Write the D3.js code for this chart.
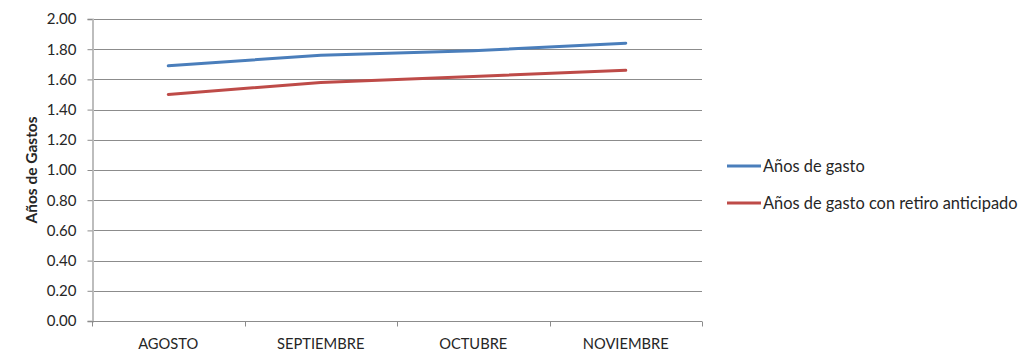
<!DOCTYPE html>
<html>
<head>
<meta charset="utf-8">
<script src="https://cdn.jsdelivr.net/npm/d3@7"></script>
<style>
  body { margin: 0; background: #fff; }
  text { font-family: Lato, "Open Sans", sans-serif; fill: #262626; }
</style>
</head>
<body>
<svg id="chart" width="1024" height="363"></svg>
<script>
// chart data
var months = ['AGOSTO', 'SEPTIEMBRE', 'OCTUBRE', 'NOVIEMBRE'];
var gasto = [1.69, 1.76, 1.79, 1.84];
var gastoRetiro = [1.50, 1.58, 1.62, 1.66];
var seriesNames = ['Años de gasto', 'Años de gasto con retiro anticipado'];
var yTicks = [0, 0.2, 0.4, 0.6, 0.8, 1.0, 1.2, 1.4, 1.6, 1.8, 2.0];

var colors = ['#4a7ebb', '#be4b48'];
var svg = d3.select('#chart');

var padding = {t: 19, l: 92, r: 322, b: 42};
var width = 1024 - padding.l - padding.r;
var height = 363 - padding.t - padding.b;

var xScale = d3.scaleBand().domain(months).range([0, width]);
var yScale = d3.scaleLinear().domain([0, 2]).range([height, 0]);

var chartG = svg.append('g')
    .attr('transform', 'translate(' + [padding.l, padding.t] + ')');

// horizontal grid lines
chartG.selectAll('.grid')
    .data(yTicks)
    .enter().append('line')
    .attr('x1', 0).attr('x2', width)
    .attr('y1', function(d) { return Math.round(yScale(d)) + 0.5; })
    .attr('y2', function(d) { return Math.round(yScale(d)) + 0.5; })
    .attr('stroke', '#8c8c8c')
    .attr('stroke-width', 1);

// y axis
var yAxis = chartG.append('g')
    .attr('transform', 'translate(0.5,0)')
    .call(d3.axisLeft(yScale).tickValues(yTicks).tickSize(5).tickPadding(11)
        .tickFormat(d3.format('.2f')));
yAxis.select('.domain').attr('stroke', '#bdbdbd').attr('stroke-width', 2);
yAxis.selectAll('.tick line').attr('stroke', '#8c8c8c');
yAxis.selectAll('text').style('font-size', '15px').attr('fill', '#262626');

// x axis, ticks at band boundaries
var xAxisG = chartG.append('g')
    .attr('transform', 'translate(0,' + (Math.round(height) + 0.5) + ')');
xAxisG.append('line')
    .attr('x1', 0).attr('x2', width)
    .attr('stroke', '#8c8c8c');
var bounds = months.map(function(m) { return xScale(m); }).concat([width]);
xAxisG.selectAll('.xtick')
    .data(bounds)
    .enter().append('line')
    .attr('x1', function(d) { return Math.round(d) + 0.5; })
    .attr('x2', function(d) { return Math.round(d) + 0.5; })
    .attr('y1', 0).attr('y2', 5)
    .attr('stroke', '#8c8c8c');
xAxisG.selectAll('.xlabel')
    .data(months)
    .enter().append('text')
    .attr('x', function(d) { return xScale(d) + xScale.bandwidth() / 2; })
    .attr('y', 27)
    .attr('text-anchor', 'middle')
    .style('font-size', '14.7px')
    .text(function(d) { return d; });

// y axis title
svg.append('text')
    .attr('transform', 'translate(37,' + (padding.t + height / 2) + ') rotate(-90)')
    .attr('text-anchor', 'middle')
    .style('font-size', '15.5px')
    .style('font-weight', 700)
    .attr('fill', '#000')
    .text('Años de Gastos');

// lines
var line = d3.line()
    .x(function(d, i) { return xScale(months[i]) + xScale.bandwidth() / 2; })
    .y(function(d) { return yScale(d); });

[gasto, gastoRetiro].forEach(function(s, i) {
    chartG.append('path')
        .datum(s)
        .attr('d', line)
        .attr('fill', 'none')
        .attr('stroke', colors[i])
        .attr('stroke-width', 3)
        .attr('stroke-linecap', 'round');
});

// legend
var legend = svg.selectAll('.legend')
    .data(seriesNames)
    .enter().append('g')
    .attr('transform', function(d, i) { return 'translate(727,' + (166 + i * 37) + ')'; });
legend.append('line')
    .attr('x1', 0).attr('x2', 34)
    .attr('stroke', function(d, i) { return colors[i]; })
    .attr('stroke-width', 3);
legend.append('text')
    .attr('x', 36).attr('y', 5.5)
    .style('font-size', '16.4px')
    .text(function(d) { return d; });
</script>
</body>
</html>
